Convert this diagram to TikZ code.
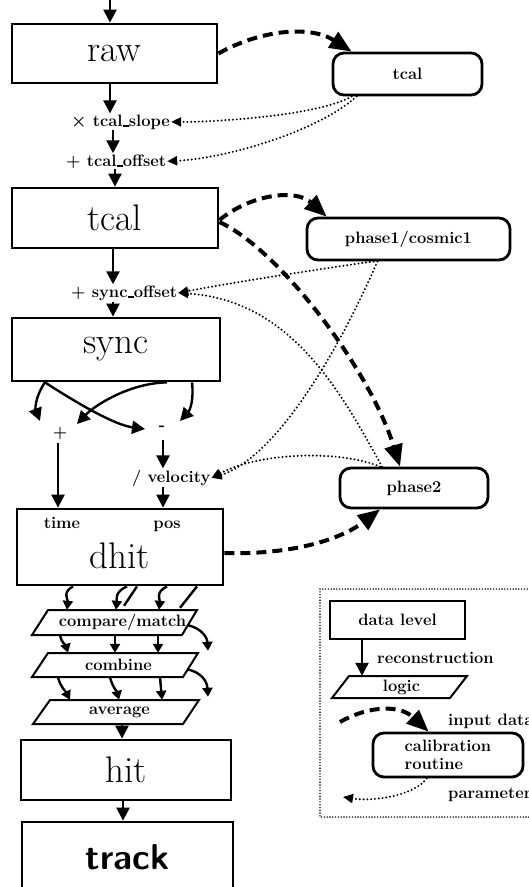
\documentclass[tikz,border=0pt]{standalone}
\usepackage{fontspec}
\usetikzlibrary{arrows.meta,calc}
\newcommand\bigfnt{\fontsize{37}{40}\selectfont}
\newcommand\smfnt{\fontsize{16.5}{17.5}\selectfont\bfseries}
\newcommand\trackfnt{\fontsize{36}{40}\selectfont\sffamily\bfseries}
\newcommand\usc{\kern0.2pt\rule[-0.8pt]{6pt}{1.4pt}\kern0.2pt}
\begin{document}
\begin{tikzpicture}[x=1pt,y=-1pt,
  databox/.style={draw, line width=2.8pt, inner sep=0pt, font=\bigfnt},
  smallbox/.style={draw, line width=2.8pt, inner sep=0pt, font=\smfnt},
  calbox/.style={draw, line width=2.8pt, rounded corners=11pt, inner sep=0pt, font=\smfnt},
  lab/.style={font=\smfnt, inner sep=1pt},
  biglab/.style={font=\bigfnt, inner sep=0pt},
  pgtext/.style={font=\smfnt, inner sep=1pt},
  pgline/.style={line width=2pt, line join=miter},
  arr/.style={line width=2.4pt, -{Triangle[length=13pt,width=13pt]}},
  sarr/.style={line width=2.4pt, -{Triangle[length=9pt,width=10pt]}},
  dasharr/.style={line width=4pt, dash pattern=on 10pt off 6pt, -{Triangle[length=22pt,width=18pt]}},
  dotarr/.style={line width=2.2pt, dash pattern=on 0pt off 3.8pt, line cap=round, -{Triangle[length=10pt,width=9pt]}},
  legendframe/.style={line width=1.6pt, dash pattern=on 0pt off 2.8pt, line cap=round}
]
\useasboundingbox (0,0) rectangle (528,887);

% ---------- main column ----------
\node[databox, minimum width=205pt, minimum height=59pt] (raw) at (114.5,53.5) {raw};
\coordinate (topc) at (110,0);
\draw[arr] (topc) -- (raw.north -| topc);

\node[lab, anchor=base west] (slope) at (70,126) {{\boldmath$\times$} tcal\usc slope};
\coordinate (cA) at (110,0);
\draw[arr] (raw.south -| cA) -- (slope.north -| cA);

\node[lab, anchor=base west] (toff) at (65,166) {+ tcal\usc offset};
\coordinate (cB) at (113,0);
\draw[arr] (slope.south -| cB) -- (toff.north -| cB);

\node[databox, minimum width=206pt, minimum height=60pt] (tcal) at (115,218) {tcal};
\coordinate (cC) at (115,0);
\draw[arr] (toff.south -| cC) -- (tcal.north -| cC);

\node[lab, anchor=base west] (soff) at (70,297) {+ sync\usc offset};
\coordinate (cD) at (113,0);
\draw[arr] (tcal.south -| cD) -- (soff.north -| cD);

\node[databox, minimum width=208pt, minimum height=63pt] (sync) at (116,349.5) {sync};
\draw[arr] (soff.south -| cD) -- (sync.north -| cD);

% sync split
\node[lab, minimum height=20pt] (plus) at (60,433) {+};
\node[lab, minimum height=24pt] (minus) at (162,428) {-};
\coordinate (s1) at (45,0);
\coordinate (s3) at (167,0);
\coordinate (s4) at (192,0);
\coordinate (tp1) at (40,421);
\coordinate (tp2) at (77,424);
\coordinate (tm1) at (145,429);
\coordinate (tm2) at (180,421);
\draw[arr] (sync.south -| s1) .. controls (36,395) and (35,408) .. (tp1);
\draw[arr] (sync.south -| s1) .. controls (80,405) and (115,425) .. (tm1);
\draw[arr] (sync.south -| s3) .. controls (130,383) and (95,405) .. (tp2);
\draw[arr] (sync.south -| s4) .. controls (194,400) and (190,410) .. (tm2);

% dhit
\node[databox, minimum width=206pt, minimum height=76pt] (dhit) at (120,547) {};
\node[biglab] (dhitT) at (120,556) {dhit};
\node[lab, anchor=base] (time) at (62,528) {time};
\node[lab, anchor=base] (pos) at (167,528) {pos};
\coordinate (cE) at (58,0);
\coordinate (cF) at (163,0);
\draw[arr] (plus.south -| cE) -- (dhit.north -| cE);
\node[lab, anchor=base west] (vel) at (131,482) {/ velocity};
\draw[arr] (minus.south -| cF) -- (vel.north -| cF);
\draw[arr] (vel.south -| cF) -- (dhit.north -| cF);

% logic steps
\node[pgtext, minimum height=25pt] (cmp) at (122.5,622.5) {compare/match};
\draw[pgline] (32,635) -- (48,610) -- (197,610) -- (182,635) -- cycle;
\node[pgtext, minimum height=24pt] (comb) at (118.5,665) {combine};
\draw[pgline] (32,677) -- (48,653) -- (198,653) -- (183,677) -- cycle;
\node[pgtext, minimum height=24pt] (avg) at (119.5,712) {average};
\draw[pgline] (33,724) -- (50,700) -- (199,700) -- (183,724) -- cycle;

% dhit -> compare/match
\draw[sarr] ($(dhit.south)+(-47,0)$) .. controls (62,592) and (68,600) .. ($(cmp.north)+(-55.5,0)$);
\draw[sarr] ($(dhit.south)+(7,0)$) .. controls (114,592) and (117,600) .. ($(cmp.north)+(-6.5,0)$);
\draw[line width=2.4pt] ($(dhit.south)+(17,0)$) -- ($(cmp.north)+(1.5,-4)$);
\draw[sarr] ($(dhit.south)+(47,0)$) .. controls (155,592) and (160,600) .. ($(cmp.north)+(36.5,0)$);
\draw[line width=2.4pt] ($(dhit.south)+(77,0)$) -- ($(cmp.north)+(57.5,-2)$);

% compare/match -> combine
\draw[sarr] ($(cmp.south)+(-62.5,0)$) .. controls (61,642) and (66,646) .. ($(comb.north)+(-50.5,0)$);
\draw[sarr] ($(cmp.south)+(-7.5,0)$) -- ($(comb.north)+(-3.5,0)$);
\draw[sarr] ($(cmp.south)+(35.5,0)$) -- ($(comb.north)+(39.5,0)$);
\draw[sarr] ($(cmp.south)+(65.5,-10)$) .. controls (200,628) and (207,636) .. ($(comb.north)+(89.5,-2)$);

% combine -> average
\draw[sarr] ($(comb.south)+(-60.5,0)$) .. controls (60,686) and (66,692) .. ($(avg.north)+(-49.5,0)$);
\draw[sarr] ($(comb.south)+(-8.5,0)$) .. controls (112,686) and (117,692) .. ($(avg.north)+(-0.5,0)$);
\draw[sarr] ($(comb.south)+(41.5,0)$) -- ($(avg.north)+(42.5,0)$);
\draw[sarr] ($(comb.south)+(68.5,-8)$) .. controls (200,672) and (207,680) .. ($(avg.north)+(88.5,-3)$);

% hit, track
\node[databox, minimum width=210pt, minimum height=60pt] (hit) at (126,770) {hit};
\draw[arr] ($(avg.south)+(2.5,0)$) -- ($(hit.north)+(-4,0)$);
\node[databox, font=\trackfnt, minimum width=211pt, minimum height=70pt] (track) at (127.5,857) {track};
\draw[arr] ($(hit.south)+(-3,0)$) -- ($(track.north)+(-4.5,0)$);

% ---------- calibration routines ----------
\node[calbox, minimum width=149pt, minimum height=42pt] (tcalR) at (407.5,74) {tcal};
\node[calbox, minimum width=203pt, minimum height=42pt] (ph1) at (408.5,239) {phase1/cosmic1};
\node[calbox, minimum width=148pt, minimum height=40pt] (ph2) at (414,488) {phase2};

\draw[dasharr] (raw.east) .. controls (260,30) and (310,25) .. ($(tcalR.north west)+(20,0)$);
\draw[dasharr] ($(tcal.east)+(0,2)$) .. controls (250,195) and (295,188) .. ($(ph1.north west)+(21,0)$);
\draw[dasharr] ($(tcal.east)+(0,4)$) .. controls (280,250) and (370,370) .. ($(ph2.north)+(-14,0)$);
\draw[dasharr] ($(dhit.east)+(0,6)$) .. controls (290,555) and (340,540) .. ($(ph2.south)+(-34,0)$);

\draw[dotarr] ($(tcalR.south west)+(20,0)$) .. controls (320,115) and (220,122) .. (slope.east);
\draw[dotarr] ($(tcalR.south west)+(25,0)$) .. controls (320,130) and (230,158) .. (toff.east);
\draw[dotarr] ($(ph1.south)+(-35,0)$) .. controls (300,272) and (230,283) .. (soff.east);
\draw[dotarr] ($(ph2.north)+(-32,0)$) .. controls (340,390) and (290,300) .. (soff.east);
\draw[dotarr] ($(ph1.south)+(-31,0)$) .. controls (330,370) and (270,460) .. (vel.east);
\draw[dotarr] ($(ph2.north)+(-34,0)$) .. controls (340,450) and (260,452) .. (vel.east);

% ---------- legend ----------
\draw[legendframe] (320,589) rectangle (540,817);
\node[smallbox, minimum width=135pt, minimum height=38pt] (dl) at (397.5,620) {data level};
\node[pgtext, minimum height=22pt] (lg) at (401.5,687) {logic};
\draw[pgline] (332,698) -- (349,676) -- (467,676) -- (450,698) -- cycle;
\draw[arr] ($(dl.south)+(-35.5,0)$) -- ($(lg.north)+(-39.5,0)$);
\node[lab, anchor=base west] (rec) at (376,663) {reconstruction};
\node[calbox, minimum width=150pt, minimum height=44pt, align=left] (calib) at (448,755) {calibration\\routine};
\coordinate (dstart) at (340,722);
\draw[dasharr] (dstart) .. controls (370,705) and (400,705) .. ($(calib.north west)+(57,0)$);
\node[lab, anchor=base west] (inp) at (447,725) {input data};
\coordinate (pend) at (343,797);
\draw[dotarr] ($(calib.south west)+(55,0)$) .. controls (415,795) and (375,802) .. (pend);
\node[lab, anchor=base west] (par) at (447,798) {parameters};
\end{tikzpicture}
\end{document}
